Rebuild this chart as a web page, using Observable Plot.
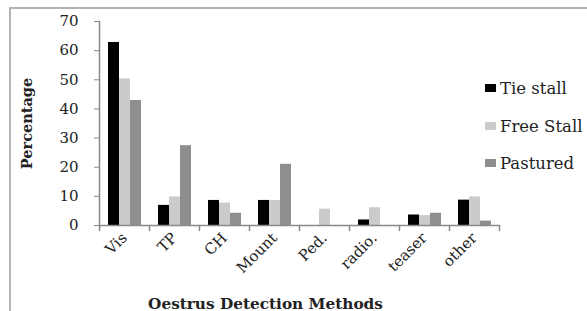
<!DOCTYPE html>
<html>
<head>
<meta charset="utf-8">
<script src="https://cdn.jsdelivr.net/npm/d3@7"></script>
<script src="https://cdn.jsdelivr.net/npm/@observablehq/plot@0.6"></script>
<style>
  html, body { margin: 0; padding: 0; background: #fff; }
  #wrap { position: relative; width: 587px; height: 311px; overflow: hidden; font-family: "DejaVu Serif", serif; }
  #border { position: absolute; left: 9px; top: 7px; width: 700px; height: 400px; border-top: 2px solid #b4b4b4; border-left: 2px solid #b4b4b4; }
  #chart { position: absolute; left: 0; top: 0; }
  #legend { position: absolute; left: 485px; top: 0; }
  .item { position: absolute; left: 0; white-space: nowrap; font-family: "DejaVu Serif", serif; font-size: 16.5px; color: #222; }
  .sw { position: absolute; left: 0; width: 11px; height: 8px; }
  .lab { position: absolute; left: 15px; }
</style>
</head>
<body>
<div id="wrap"><div id="border"></div><div id="chart"></div><div id="legend"></div></div>
<script>
const categories = ["Vis", "TP", "CH", "Mount", "Ped.", "radio.", "teaser", "other"];
const series = ["Tie stall", "Free Stall", "Pastured"];
const tieStall  = [62.8, 6.9, 8.6, 8.6, 0, 1.9, 3.6, 8.7];
const freeStall = [50.3, 9.8, 7.7, 8.6, 5.6, 6.1, 3.4, 9.8];
const pastured  = [42.9, 27.4, 4.2, 21.0, 0, 0, 4.2, 1.5];
const yTicks = [0, 10, 20, 30, 40, 50, 60, 70];
const colors = ["#000000", "#cbcbcb", "#8e8e8e"];
const xTitle = "Oestrus Detection Methods";
const yTitle = "Percentage";

const valuesBySeries = [tieStall, freeStall, pastured];
const data = [];
categories.forEach((c, i) => series.forEach((s, j) => data.push({method: c, group: s, value: valuesBySeries[j][i]})));

const tickShape = {draw(context, l) { context.moveTo(0, 0); context.lineTo(0, -l); }};
const axisGray = "#8a8a8a";

const chart = Plot.plot({
  width: 587, height: 311,
  marginTop: 21, marginBottom: 86, marginLeft: 95, marginRight: 85,
  style: {fontFamily: "DejaVu Serif, serif", fontSize: "15px", color: "#222", background: "transparent"},
  fx: {domain: categories, padding: 0},
  x: {domain: series, paddingInner: 0, paddingOuter: 0.75, axis: null},
  y: {domain: [0, 70], axis: null},
  color: {domain: series, range: colors},
  marks: [
    Plot.barY(data, {fx: "method", x: "group", y: "value", fill: "group"}),
    Plot.ruleY([0], {stroke: axisGray, strokeWidth: 1.5}),
    Plot.frame({anchor: "left", facetAnchor: "left", stroke: axisGray, strokeWidth: 1.5}),
    Plot.vector(categories, {fx: d => d, frameAnchor: "bottom-left", length: 5, rotate: 180, anchor: "start", shape: tickShape, stroke: axisGray, strokeWidth: 1.5}),
    Plot.vector([categories[categories.length - 1]], {fx: d => d, frameAnchor: "bottom-right", length: 5, rotate: 180, anchor: "start", shape: tickShape, stroke: axisGray, strokeWidth: 1.5}),
    Plot.axisY({ticks: yTicks, tickSize: 5, tickPadding: 16, stroke: axisGray, tickFormat: d => String(d), label: null, fontSize: 15}),
    Plot.axisY({ticks: [], label: yTitle, labelAnchor: "center", labelArrow: "none", labelOffset: 78, fontWeight: "bold", fontSize: 14.5}),
    Plot.axisFx({anchor: "bottom", tickSize: 0, tickPadding: 10, tickRotate: -45, label: null, fontSize: 15}),
    Plot.text([xTitle], {facet: "super", frameAnchor: "bottom", lineAnchor: "bottom", dy: 83, dx: -34, fontWeight: "bold", fontSize: 15.3, fill: "#222"})
  ]
});
document.getElementById("chart").appendChild(chart);

const legend = document.getElementById("legend");
const baselines = [93, 130.5, 168];
series.forEach((s, j) => {
  const item = document.createElement("div");
  item.className = "item";
  item.style.top = (baselines[j] - 14) + "px";
  const sw = document.createElement("div");
  sw.className = "sw";
  sw.style.background = colors[j];
  sw.style.top = "5px";
  const lab = document.createElement("div");
  lab.className = "lab";
  lab.textContent = s;
  item.appendChild(sw);
  item.appendChild(lab);
  legend.appendChild(item);
});
</script>
</body>
</html>
